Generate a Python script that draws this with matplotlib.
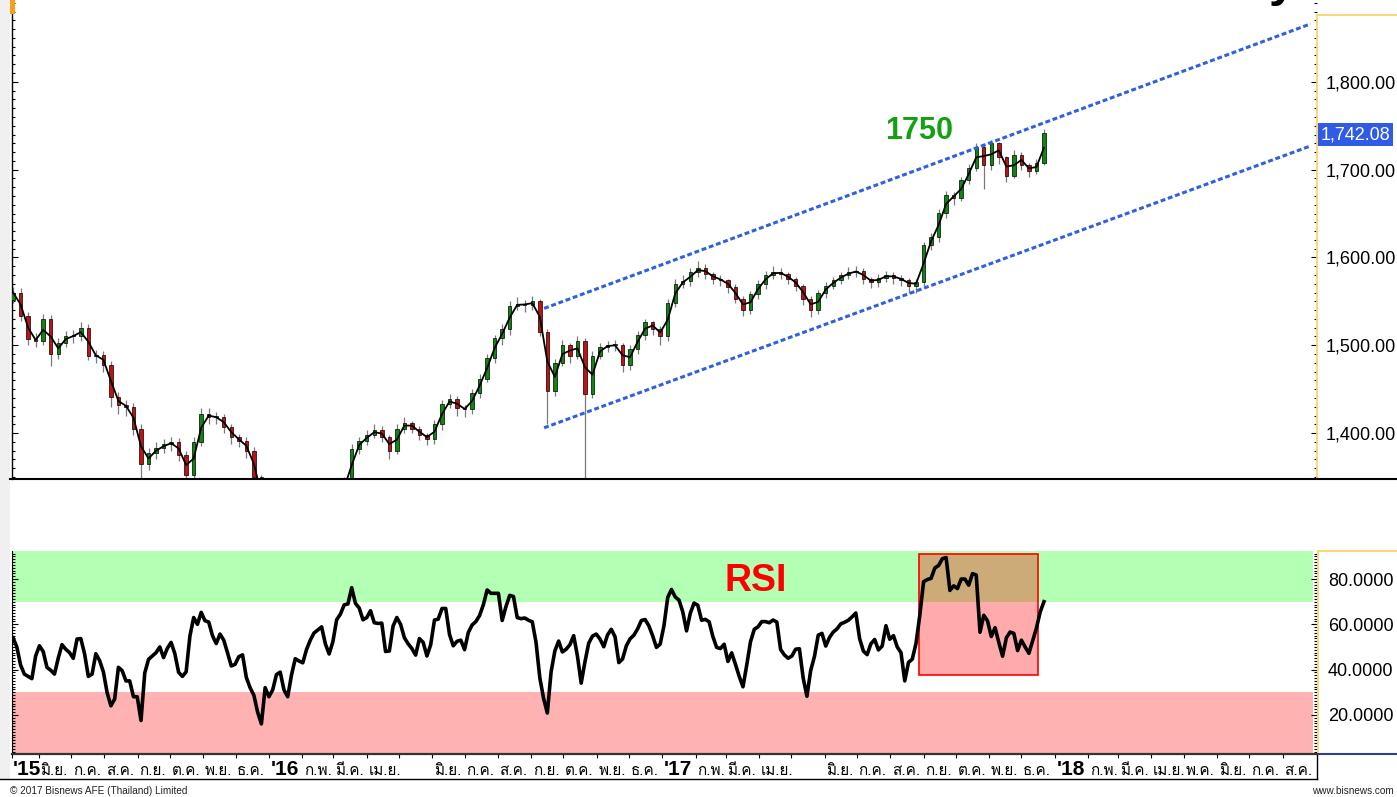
import numpy as np
import pandas as pd
import matplotlib
matplotlib.use('Agg')
import matplotlib.pyplot as plt
import matplotlib.dates as mdates
import matplotlib.transforms as mtrans
from matplotlib import font_manager as fm
from matplotlib.ft2font import FT2Font
from matplotlib.patches import Rectangle
from matplotlib.lines import Line2D
from matplotlib.ticker import MultipleLocator, FuncFormatter

W, H = 1397, 797

# weekly candles, first week ending 2015-05-08
start = '2015-05-08'
first_open = 1552
close = [1560, 1533, 1507, 1505, 1530, 1490, 1503, 1511, 1510, 1520,
         1488, 1489, 1478, 1441, 1432, 1430, 1405, 1365, 1377, 1383,
         1387, 1390, 1375, 1352, 1390, 1422, 1418, 1418, 1407, 1395,
         1391, 1380, 1350, 1310, 1290, 1270, 1240, 1230, 1270, 1300,
         1290, 1305, 1320, 1330, 1345, 1382, 1391, 1398, 1404, 1395,
         1380, 1405, 1412, 1405, 1398, 1393, 1410, 1433, 1439, 1428,
         1427, 1446, 1462, 1486, 1508, 1518, 1545, 1547, 1546, 1550,
         1515, 1448, 1480, 1500, 1488, 1505, 1445, 1488, 1498, 1500,
         1500, 1477, 1496, 1512, 1526, 1519, 1510, 1548, 1570, 1573,
         1583, 1588, 1581, 1576, 1574, 1566, 1553, 1540, 1558, 1570,
         1580, 1584, 1581, 1575, 1568, 1553, 1540, 1559, 1568, 1574,
         1580, 1583, 1585, 1575, 1572, 1577, 1580, 1577, 1574, 1568,
         1572, 1614, 1623, 1651, 1671, 1668, 1688, 1702, 1726, 1705,
         1730, 1714, 1693, 1717, 1705, 1698, 1708, 1742.08]
high = [1566, 1565, 1538, 1514, 1536, 1534, 1508, 1516, 1517, 1526,
        1524, 1495, 1494, 1482, 1447, 1438, 1434, 1410, 1383, 1390,
        1393, 1396, 1394, 1380, 1396, 1428, 1428, 1424, 1422, 1410,
        1399, 1395, 1384, 1352, 1314, 1294, 1274, 1244, 1274, 1305,
        1305, 1310, 1325, 1336, 1350, 1388, 1396, 1403, 1410, 1408,
        1398, 1410, 1418, 1414, 1408, 1400, 1415, 1438, 1445, 1442,
        1432, 1450, 1467, 1490, 1512, 1524, 1550, 1555, 1552, 1556,
        1553, 1518, 1484, 1506, 1503, 1510, 1508, 1493, 1503, 1505,
        1506, 1503, 1500, 1516, 1530, 1528, 1522, 1553, 1575, 1580,
        1588, 1596, 1592, 1584, 1580, 1576, 1570, 1556, 1562, 1574,
        1585, 1590, 1588, 1584, 1578, 1570, 1556, 1563, 1572, 1578,
        1584, 1589, 1590, 1588, 1578, 1581, 1585, 1584, 1580, 1577,
        1576, 1618, 1628, 1655, 1676, 1675, 1692, 1707, 1730, 1728,
        1734, 1732, 1716, 1722, 1720, 1708, 1712, 1746]
low = [1548, 1528, 1500, 1498, 1500, 1476, 1484, 1498, 1503, 1505,
       1483, 1480, 1470, 1430, 1422, 1420, 1398, 1345, 1358, 1370,
       1377, 1380, 1368, 1338, 1346, 1385, 1410, 1410, 1400, 1388,
       1384, 1372, 1340, 1300, 1280, 1262, 1230, 1220, 1226, 1264,
       1282, 1284, 1300, 1314, 1324, 1340, 1376, 1386, 1394, 1390,
       1370, 1376, 1400, 1400, 1392, 1386, 1388, 1404, 1428, 1420,
       1418, 1422, 1440, 1458, 1480, 1500, 1512, 1540, 1538, 1540,
       1510, 1410, 1442, 1476, 1480, 1484, 1345, 1440, 1484, 1492,
       1494, 1470, 1472, 1490, 1506, 1512, 1500, 1505, 1544, 1565,
       1568, 1578, 1576, 1570, 1568, 1560, 1548, 1533, 1536, 1553,
       1564, 1576, 1575, 1570, 1562, 1546, 1532, 1536, 1554, 1564,
       1570, 1576, 1578, 1570, 1565, 1566, 1572, 1570, 1568, 1560,
       1560, 1568, 1608, 1618, 1645, 1660, 1664, 1684, 1698, 1678,
       1700, 1706, 1686, 1690, 1700, 1692, 1695, 1705]

# RSI, two readings a week
rsi = [54, 50, 42, 38, 37, 36, 46, 50.5, 48, 41,
       39.7, 38, 45, 51, 49, 47.5, 45, 53.5, 53.7, 47,
       37, 38, 47, 44, 39, 29.8, 24, 27, 41, 39.5,
       35, 35, 28, 28, 17.5, 38.5, 44.5, 46, 47.5, 50,
       45.3, 49.4, 52, 47, 38.8, 37, 39, 54.8, 63, 60,
       65.3, 61.6, 61, 55, 51.5, 55.7, 53, 47.4, 41.6, 42.3,
       45.7, 46.5, 36.5, 32, 28.7, 21.2, 16, 32, 28, 31,
       37.8, 38.9, 31, 28, 37.6, 44.8, 43.8, 43, 48.9, 53,
       56.2, 57.5, 58.9, 51.4, 46.9, 52.3, 62, 64.5, 68.6, 69,
       76.2, 69.3, 67.2, 62, 63, 66, 60.7, 60.4, 60.5, 48,
       48.2, 59.2, 63, 60, 54.1, 51.4, 49.3, 46.4, 53.7, 52,
       46, 51, 61.9, 62.3, 67, 67, 55.5, 50.5, 52.5, 53,
       48.8, 56.4, 59.7, 61.2, 63.9, 68.7, 75.2, 73.7, 73.7, 73.7,
       61.7, 67.8, 72.8, 72.3, 63, 62.5, 62.8, 61.8, 61.1, 52,
       36.4, 27.3, 20.8, 39, 48.2, 52.6, 47.8, 49, 51, 55,
       46, 34, 43.4, 51.7, 54.8, 55.7, 53.5, 50.1, 55.3, 57.8,
       54.5, 43.1, 44.7, 50.5, 53.6, 55.2, 58, 61.7, 62.1, 59.3,
       54.9, 49.8, 51.3, 59.4, 71.9, 75.4, 72.1, 70.7, 65.5, 57.1,
       64.9, 69.4, 68.4, 61.8, 62.2, 61.1, 54.6, 49.8, 49.3, 51.2,
       43.6, 47.4, 42.3, 37, 32.4, 42, 52.3, 57.8, 58.9, 61.2,
       61.2, 60.7, 61.9, 61, 48.9, 46.5, 45, 46, 49, 49.2,
       36.3, 28.2, 39.6, 45.8, 55.2, 56, 50.4, 54.2, 56.6, 58,
       60.2, 60.9, 61.8, 63.3, 65, 53.7, 48.2, 46.6, 51.4, 53.3,
       48.7, 50.4, 59.4, 53.4, 55, 50, 47.5, 35, 43.2, 44.6,
       51.6, 64, 78.8, 79.8, 80.3, 84.9, 86, 89, 89.5, 75,
       77, 75.8, 80, 80, 77.3, 82.4, 81.8, 56.5, 64, 61.5,
       54.6, 58.5, 52, 45.9, 54, 56.6, 56, 48.4, 53, 50,
       47.2, 52.8, 58.3, 65.5, 70]

channel_dates = ['2016-09-13', '2018-08-27']
channel_upper = [1542, 1866]
channel_lower = [1406, 1727]

box_dates = ['2017-08-28', '2017-12-16']
box_rsi = [37.4, 91.1]

price_ticks = [1400, 1500, 1600, 1700, 1800]
rsi_ticks = [20, 40, 60, 80]
thai_months = ['ม.ค.', 'ก.พ.', 'มี.ค.', 'เม.ย.', 'พ.ค.', 'มิ.ย.',
               'ก.ค.', 'ส.ค.', 'ก.ย.', 'ต.ค.', 'พ.ย.', 'ธ.ค.']
hidden_months = ['2016-05', '2017-05']


# fonts
names = {f.name for f in fm.fontManager.ttflist}
NARROW = 'Liberation Sans Narrow' if 'Liberation Sans Narrow' in names else 'Liberation Sans'

def font_with(ch):
    seen = set()
    for f in fm.fontManager.ttflist:
        if f.fname in seen:
            continue
        seen.add(f.fname)
        try:
            if ord(ch) in FT2Font(f.fname).get_charmap():
                return f.name
        except Exception:
            continue
    return 'DejaVu Sans'

THAI = font_with('ม')
plt.rcParams['font.family'] = [NARROW, 'DejaVu Sans']

fig = plt.figure(figsize=(W / 100, H / 100), dpi=100)
fig.patch.set_facecolor('white')

def rect(x0, y0, x1, y1):
    return [x0 / W, 1 - y1 / H, (x1 - x0) / W, (y1 - y0) / H]

ax = fig.add_axes(rect(12, 0, 1317, 479))
ax2 = fig.add_axes(rect(12, 551, 1317, 754))

x0 = mdates.date2num(pd.Timestamp('2015-05-07'))
x1 = x0 + 1214
TICK = 13

# ---- price panel
close = np.array(close)
high = np.array(high)
low = np.array(low)
xw = mdates.date2num(pd.date_range(start, periods=len(close), freq='7D'))
opn = np.r_[first_open, close[:-1]]
up = close >= opn
body_lo = np.minimum(opn, close)
body_h = np.maximum(np.abs(close - opn), 1.2)
ax.vlines(xw, low, high, color='#7a7a7a', lw=0.9, zorder=2)
ax.bar(xw, body_h, bottom=body_lo, width=3.2,
       color=np.where(up, '#0a8a0a', '#c41010'), edgecolor='black', lw=0.5, zorder=3)
ma = pd.Series(close).rolling(2, min_periods=1).mean()
ax.plot(xw, ma, color='black', lw=1.3, zorder=4)

cx = mdates.date2num(pd.to_datetime(channel_dates))
for yy in (channel_upper, channel_lower):
    ax.plot(cx, yy, color='#3060e0', lw=2.2, ls=(0, (1.6, 0.9)), zorder=5)

ax.text(mdates.date2num(pd.Timestamp('2017-08-28')), 1735, '1750', color='#13a013',
        fontsize=22, fontweight='bold', ha='center', va='baseline')

ax.set_xlim(x0, x1)
ax.set_ylim(1347.7, 1893.2)
ax.set_xticks([])
ax.yaxis.tick_right()
ax.set_yticks(price_ticks)
ax.yaxis.set_major_formatter(FuncFormatter(lambda v, p: f'{v:,.2f}'))
ax.yaxis.set_minor_locator(MultipleLocator(10))
ax.tick_params(axis='y', which='both', direction='in', left=True, right=True,
               labelleft=False, labelright=True, labelsize=TICK, pad=6.5, width=0.8)
ax.tick_params(axis='y', which='major', length=4)
ax.tick_params(axis='y', which='minor', length=2.5)
for s in ('top', 'right', 'bottom'):
    ax.spines[s].set_visible(False)
ax.spines['left'].set_linewidth(1.0)

blend = mtrans.blended_transform_factory(ax.transAxes, ax.transData)
ax.text((1321 - 12) / 1305, close[-1], f'{close[-1]:,.2f}', transform=blend,
        fontsize=TICK, color='white', ha='left', va='center_baseline',
        bbox=dict(boxstyle='square,pad=0.15', fc='#2f5be6', ec='none'))

# ---- RSI panel
xr = mdates.date2num(pd.Timestamp(start)) + 3.5 * np.arange(len(rsi))
band_end = (1313 - 12) / 1305
ax2.axhspan(70, 100, xmin=0, xmax=band_end, color='#b3ffb3', lw=0, zorder=0)
ax2.axhspan(0, 30, xmin=0, xmax=band_end, color='#ffb2b2', lw=0, zorder=0)
bx = mdates.date2num(pd.to_datetime(box_dates))
ax2.add_patch(Rectangle((bx[0], box_rsi[0]), bx[1] - bx[0], box_rsi[1] - box_rsi[0],
                        facecolor=(1, 0, 0, 0.33), edgecolor='red', lw=1.2, zorder=1))
ax2.plot(xr, rsi, color='black', lw=2.6, solid_joinstyle='round', zorder=3)
ax2.text(mdates.date2num(pd.Timestamp('2017-03-29')), 74.7, 'RSI', color='red',
         fontsize=27, fontweight='bold', ha='center', va='baseline', zorder=4)

ax2.set_xlim(x0, x1)
ax2.set_ylim(2.7, 92.4)
ax2.yaxis.tick_right()
ax2.set_yticks(rsi_ticks)
ax2.yaxis.set_major_formatter(FuncFormatter(lambda v, p: f'{v:.4f}'))
ax2.yaxis.set_minor_locator(MultipleLocator(1.25))
ax2.tick_params(axis='y', which='both', direction='in', left=True, right=True,
                labelleft=False, labelright=True, labelsize=TICK, pad=8, width=0.8)
ax2.tick_params(axis='y', which='major', length=4)
ax2.tick_params(axis='y', which='minor', length=2)
for s in ('top', 'right'):
    ax2.spines[s].set_visible(False)
ax2.spines['bottom'].set_linewidth(1.6)
ax2.spines['bottom'].set_color('#333333')

months = pd.date_range('2015-06-01', '2018-08-01', freq='MS')
ax2.set_xticks(np.r_[x0, mdates.date2num(months)])
ax2.tick_params(axis='x', direction='out', length=3, width=0.8, labelbottom=False)
lab_tr = mtrans.blended_transform_factory(ax2.transData, fig.transFigure)
base_y = 1 - 775 / H
ax2.text(x0 + 1, base_y, "'15", transform=lab_tr, fontsize=15, fontweight='bold',
         ha='left', va='baseline')
for m in months:
    xm = mdates.date2num(m) + 1.5
    if m.month == 1:
        ax2.text(xm, base_y, "'" + m.strftime('%y'), transform=lab_tr, fontsize=15,
                 fontweight='bold', ha='left', va='baseline')
    elif m.strftime('%Y-%m') not in hidden_months:
        ax2.text(xm, base_y, thai_months[m.month - 1], transform=lab_tr, fontsize=11,
                 family=[THAI, 'DejaVu Sans'], ha='left', va='baseline')

# ---- frame pieces
def fline(xs, ys, **kw):
    fig.add_artist(Line2D([x / W for x in xs], [1 - y / H for y in ys], **kw))

fig.add_artist(Rectangle((0, 1 - 779 / H), 10 / W, 779 / H, transform=fig.transFigure,
                         fc='#f0f0f0', ec='none', zorder=0))
fig.add_artist(Rectangle((10 / W, 1 - 14 / H), 5 / W, 14 / H, transform=fig.transFigure,
                         fc='#f5a01a', ec='none'))
yellow = '#f8d568'
fline([1317, 1317], [15, 479], color=yellow, lw=1.3)
fline([1317, 1397], [15, 15], color=yellow, lw=1.3)
fline([1318, 1318], [551, 754], color=yellow, lw=1.3)
fline([1318, 1397], [551, 551], color=yellow, lw=1.3)
fline([10, 1397], [479, 479], color='black', lw=1.5)
fline([1318, 1397], [754, 754], color='#2a3f8f', lw=1.5)
fline([0, 1317], [779, 779], color='black', lw=1.0)
fline([1317, 1317], [755, 779], color='black', lw=1.0)

fig.text(1297 / W, 1 + 4 / H, 'Daily', fontsize=35, fontweight='bold', ha='right', va='baseline')
fig.text(10 / W, 1 - 794 / H, '© 2017 Bisnews AFE (Thailand) Limited', fontsize=7.2,
         color='#222222', ha='left', va='baseline')
fig.text(1394 / W, 1 - 794 / H, 'www.bisnews.com', fontsize=7.2, color='#222222',
         ha='right', va='baseline')

fig.savefig('out.png', dpi=100)
